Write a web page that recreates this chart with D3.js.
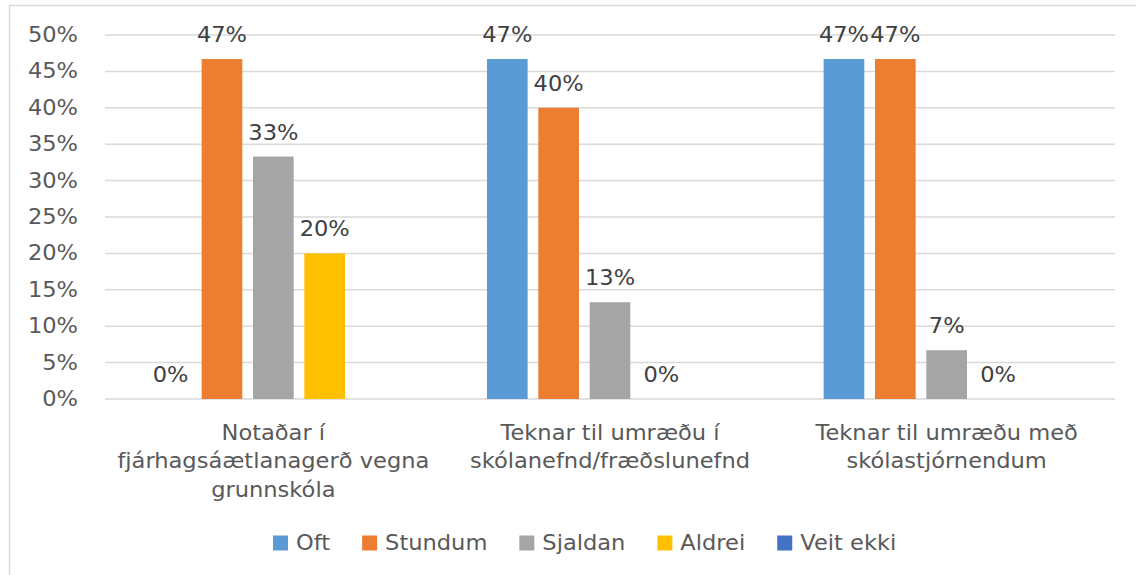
<!DOCTYPE html>
<html>
<head>
<meta charset="utf-8">
<script src="https://cdn.jsdelivr.net/npm/d3@7"></script>
<style>
  html, body { margin: 0; padding: 0; background: #fff; overflow: hidden; }
  text { font-family: "DejaVu Sans", sans-serif; }
</style>
</head>
<body>
<script>
// Categories (already wrapped the way the original shows them)
const categories = [
  ["Notaðar í", "fjárhagsáætlanagerð vegna", "grunnskóla"],
  ["Teknar til umræðu í", "skólanefnd/fræðslunefnd"],
  ["Teknar til umræðu með", "skólastjórnendum"]
];
const seriesNames = ["Oft", "Stundum", "Sjaldan", "Aldrei", "Veit ekki"];
const seriesColors = ["#5b9bd5", "#ed7d31", "#a5a5a5", "#ffc000", "#4472c4"];

// values in percent, one array per series
const oft = [0, 46.7, 46.7];
const stundum = [46.7, 40, 46.7];
const sjaldan = [33.3, 13.3, 6.7];
const aldrei = [20, 0, 0];
const veitEkki = [null, null, null];

const yTicks = [0, 5, 10, 15, 20, 25, 30, 35, 40, 45, 50];

const allSeries = [oft, stundum, sjaldan, aldrei, veitEkki];

const W = 1136, H = 575;
const plot = {left: 105, right: 1115, top: 35, bottom: 399};
const fs = 20.5;     // font size
const sx = 1.1;      // the original text is a bit wider than DejaVu

const svg = d3.select("body").append("svg")
  .attr("width", W)
  .attr("height", H);

// chart area border
svg.append("rect")
  .attr("x", 9.5).attr("y", 5.5)
  .attr("width", 1200).attr("height", 700)
  .attr("fill", "#fff")
  .attr("stroke", "#d9d9d9")
  .attr("stroke-width", 1.5);

const x0 = d3.scaleBand()
  .domain(d3.range(categories.length))
  .range([plot.left, plot.right]);

const groupPad = 45.3;
const x1 = d3.scaleBand()
  .domain(seriesNames)
  .range([groupPad, x0.bandwidth() - groupPad])
  .paddingInner(0.208);

const y = d3.scaleLinear()
  .domain([0, 50])
  .range([plot.bottom, plot.top]);

// gridlines
svg.append("g")
  .selectAll("line")
  .data(yTicks)
  .join("line")
  .attr("x1", plot.left)
  .attr("x2", plot.right)
  .attr("y1", d => y(d))
  .attr("y2", d => y(d))
  .attr("stroke", "#d9d9d9")
  .attr("stroke-width", 1.5);

// y axis labels
const yAxis = svg.append("g")
  .attr("transform", `translate(${plot.left},0)`)
  .call(d3.axisLeft(y).tickValues(yTicks).tickFormat(d => d + "%").tickSize(0).tickPadding(27));
yAxis.select(".domain").remove();
yAxis.selectAll("text")
  .attr("fill", "#595959")
  .attr("x", -27 / sx)
  .attr("transform", `scale(${sx},1)`)
  .style("font-size", fs + "px")
  .style("font-family", "DejaVu Sans");

// bars
const rows = [];
allSeries.forEach((vals, si) => {
  vals.forEach((v, ci) => {
    rows.push({s: seriesNames[si], color: seriesColors[si], c: ci, v: v});
  });
});

svg.append("g")
  .selectAll("rect")
  .data(rows.filter(d => d.v !== null))
  .join("rect")
  .attr("x", d => x0(d.c) + x1(d.s))
  .attr("y", d => y(d.v))
  .attr("width", x1.bandwidth())
  .attr("height", d => y(0) - y(d.v))
  .attr("fill", d => d.color);

// data labels
svg.append("g")
  .selectAll("g")
  .data(rows.filter(d => d.v !== null))
  .join("g")
  .attr("transform", d => `translate(${x0(d.c) + x1(d.s) + x1.bandwidth() / 2},${y(d.v) - 17}) scale(${sx},1)`)
  .append("text")
  .attr("text-anchor", "middle")
  .attr("fill", "#404040")
  .style("font-size", fs + "px")
  .text(d => Math.round(d.v) + "%");

// category labels
const catG = svg.append("g");
categories.forEach((lines, ci) => {
  const t = catG.append("g")
    .attr("transform", `translate(${x0(ci) + x0.bandwidth() / 2},0) scale(${sx},1)`)
    .append("text")
    .attr("text-anchor", "middle")
    .attr("fill", "#595959")
    .style("font-size", fs + "px");
  lines.forEach((ln, li) => {
    t.append("tspan")
      .attr("x", 0)
      .attr("y", 440 + li * 28.5)
      .text(ln);
  });
});

// legend
const legend = svg.append("g").attr("transform", "translate(273,543)");
let lx = 0;
seriesNames.forEach((name, i) => {
  const g = legend.append("g").attr("transform", `translate(${lx},0)`);
  g.append("rect")
    .attr("x", 0).attr("y", -7.5)
    .attr("width", 15).attr("height", 15)
    .attr("fill", seriesColors[i]);
  const t = g.append("g")
    .attr("transform", `translate(23,7) scale(${sx},1)`)
    .append("text")
    .attr("fill", "#595959")
    .style("font-size", fs + "px")
    .text(name);
  lx += 23 + t.node().getComputedTextLength() * sx + 32;
});
</script>
</body>
</html>
